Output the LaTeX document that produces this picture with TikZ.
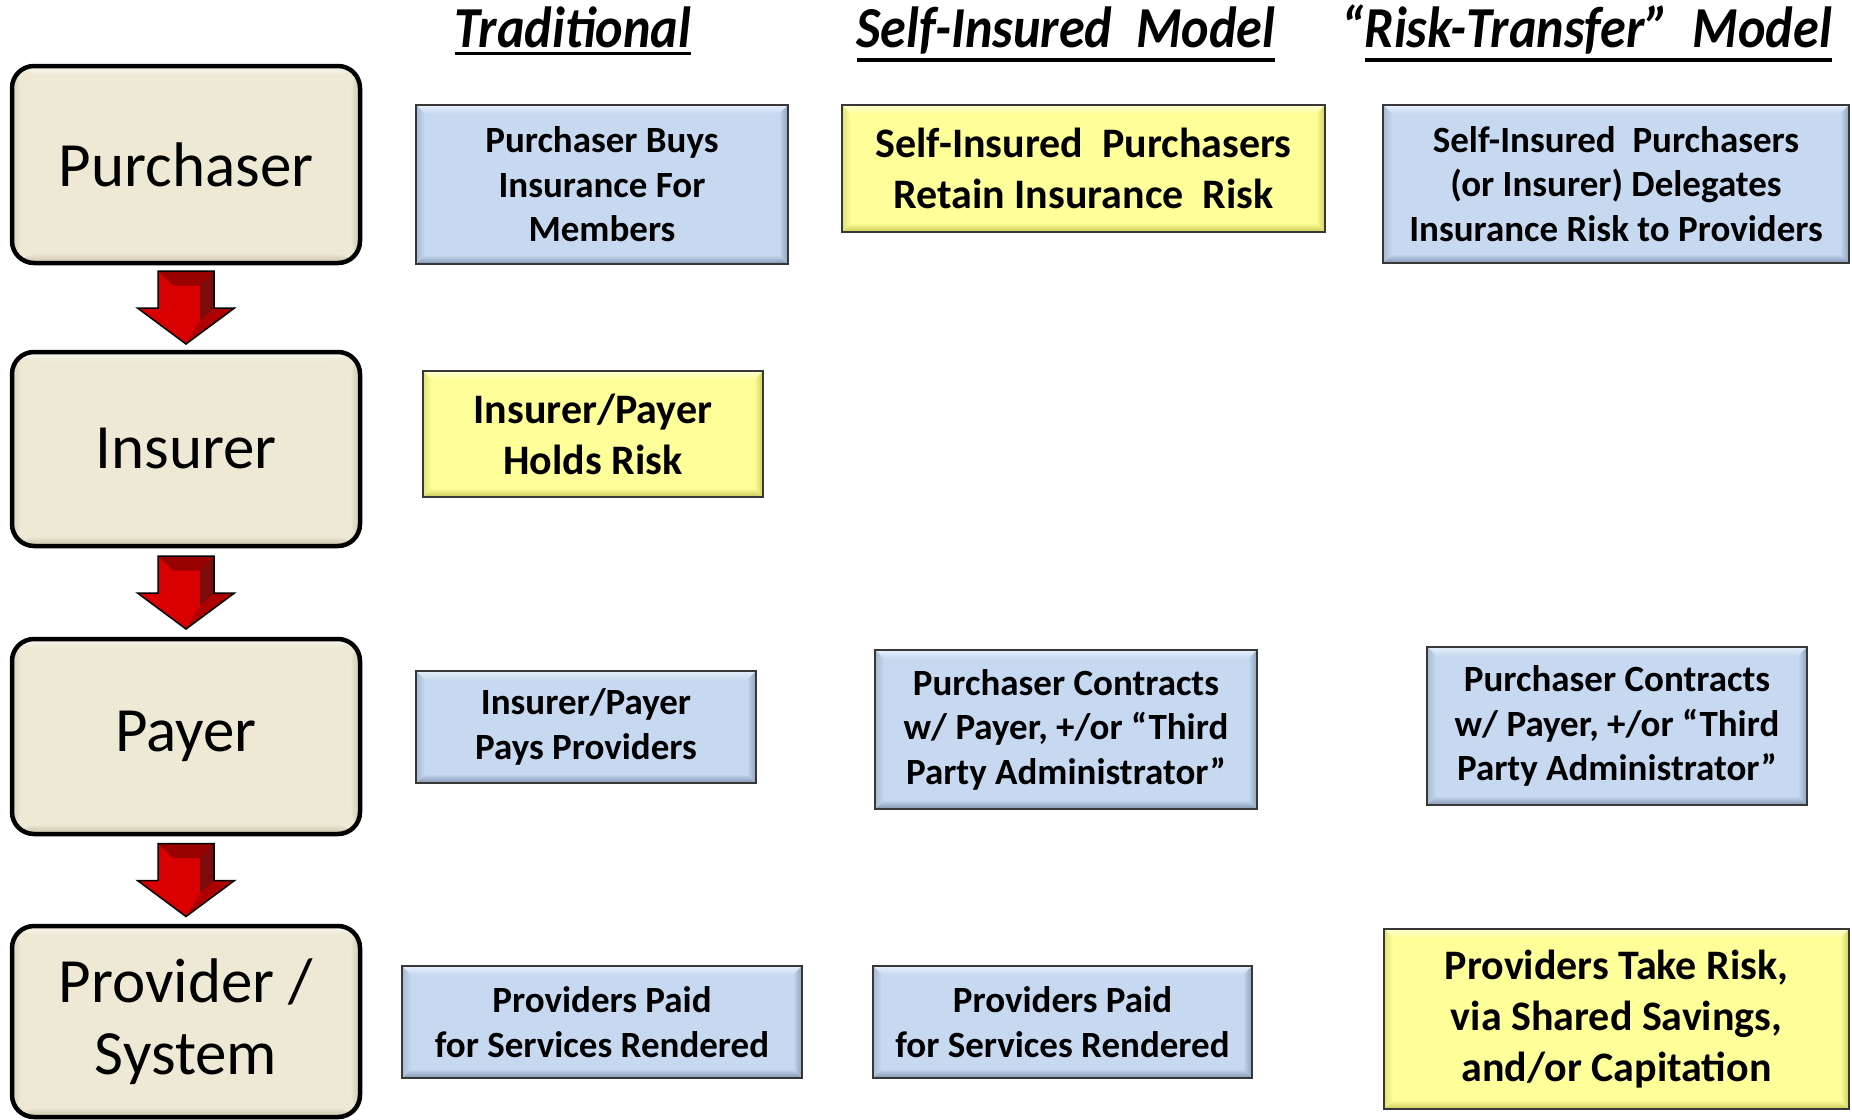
\documentclass[tikz,border=0pt]{standalone}
\usepackage{fontspec}
\usepackage{graphicx}
\setmainfont{Carlito}
\usetikzlibrary{calc}
\definecolor{boxblue}{HTML}{C6D9F1}
\definecolor{blueT}{HTML}{E6EFFA}
\definecolor{blueL}{HTML}{A6BAD4}
\definecolor{blueR}{HTML}{8DA1BB}
\definecolor{blueB}{HTML}{8396AF}
\definecolor{boxyel}{HTML}{FFFF99}
\definecolor{yelT}{HTML}{FFFFD2}
\definecolor{yelL}{HTML}{E2E27A}
\definecolor{yelR}{HTML}{CFCF62}
\definecolor{yelB}{HTML}{C8C85A}
\definecolor{boxbei}{HTML}{EDE9D5}
\definecolor{beiT}{HTML}{F8F6EE}
\definecolor{beiL}{HTML}{DAD4BE}
\definecolor{beiR}{HTML}{CFC9B1}
\definecolor{beiB}{HTML}{C8C1A8}
\definecolor{arrfront}{HTML}{D80000}
\definecolor{arrtop}{HTML}{990000}
\definecolor{arrside}{HTML}{7A0C0C}
\definecolor{arrhead}{HTML}{AE0000}
\definecolor{edgegray}{HTML}{383838}
\newcommand{\bevelpic}[6]{%
  \path (path picture bounding box.north west) coordinate (bnw)
        (path picture bounding box.north east) coordinate (bne)
        (path picture bounding box.south west) coordinate (bsw)
        (path picture bounding box.south east) coordinate (bse);
  \shade[top color=#2, bottom color=#1] (bnw) -- (bne) -- ([xshift=-#6,yshift=-#6]bne) -- ([xshift=#6,yshift=-#6]bnw) -- cycle;
  \shade[top color=#1, bottom color=#5] (bsw) -- (bse) -- ([xshift=-#6,yshift=#6]bse) -- ([xshift=#6,yshift=#6]bsw) -- cycle;
  \shade[left color=#3, right color=#1] (bnw) -- (bsw) -- ([xshift=#6,yshift=#6]bsw) -- ([xshift=#6,yshift=-#6]bnw) -- cycle;
  \shade[left color=#1, right color=#4] (bne) -- (bse) -- ([xshift=-#6,yshift=#6]bse) -- ([xshift=-#6,yshift=-#6]bne) -- cycle;
}
\newcommand{\hul}[1]{\vtop{\hbox{#1}\kern4.5pt\hrule height 3.5pt}}
\tikzset{
  boxbase/.style={rectangle, draw=edgegray, line width=2.5pt, align=center,
    inner sep=0pt, text=black},
  bluebox/.style n args={2}{boxbase, fill=boxblue, minimum width=#1, minimum height=#2,
    font=\fontsize{37}{44.5}\selectfont\bfseries,
    path picture={\bevelpic{boxblue}{blueT}{blueL}{blueR}{blueB}{9pt}}},
  yelbox/.style n args={2}{boxbase, fill=boxyel, minimum width=#1, minimum height=#2,
    font=\fontsize{42}{51}\selectfont\bfseries,
    path picture={\bevelpic{boxyel}{yelT}{yelL}{yelR}{yelB}{9pt}}},
  rolebox/.style={rectangle, rounded corners=22pt, draw=black, line width=4.5pt,
    fill=boxbei, minimum width=348, minimum height=#1, align=center, inner sep=0pt,
    font=\fontsize{63}{72}\selectfont,
    path picture={\bevelpic{boxbei}{beiT}{beiL}{beiR}{beiB}{10pt}}},
  header/.style={anchor=base, inner sep=0pt, font=\fontsize{58}{60}\selectfont\bfseries\itshape},
  redarrow/.pic={
    \fill[arrfront] (-28,-36.5) -- (28,-36.5) -- (28,0.5) -- (48.5,0.5) -- (0,36.5)
      -- (-48.5,0.5) -- (-28,0.5) -- cycle;
    \fill[arrtop] (-28,-36.5) -- (28,-36.5) -- (14,-22) -- (-13,-22) -- cycle;
    \fill[arrside] (28,-36.5) -- (28,0.5) -- (14,13.5) -- (14,-22) -- cycle;
    \fill[arrhead] (28,0.5) -- (48.5,0.5) -- (0,36.5) -- (14,13.5) -- cycle;
    \draw[black, line width=1.5pt, line join=miter] (-28,-36.5) -- (28,-36.5) -- (28,0.5)
      -- (48.5,0.5) -- (0,36.5) -- (-48.5,0.5) -- (-28,0.5) -- cycle;
  }
}
\begin{document}
\begin{tikzpicture}[x=1pt, y=-1pt]
\useasboundingbox[fill=white] (0,0) rectangle (1852,1119);

% headers
\node[header] (h1) at (573,47) {\scalebox{0.9}[1]{\hul{Traditional}}};
\node[header] (h2) at (1066,47) {\scalebox{0.9}[1]{\hul{Self-Insured\ \ Model}}};
\node[header] (h3) at (1587,47) {\scalebox{0.9}[1]{“\hul{Risk-Transfer”\ \ Model}}};

% role boxes
\node[rolebox=197] (pur) at (186,164.5) {Purchaser};
\node[rolebox=194] (ins) at (186,449) {Insurer};
\node[rolebox=195] (pay) at (186,736.5) {Payer};
\node[rolebox=191] (prov) at (186,1021.5) {Provider /\\System};

% arrows
\pic at ($(pur.south)!0.5!(ins.north)$) {redarrow};
\pic at ($(ins.south)!0.5!(pay.north)$) {redarrow};
\pic at ($(pay.south)!0.5!(prov.north)$) {redarrow};

% row 1
\node[bluebox={372}{159}] (b1) at (602,184.5) {Purchaser Buys\\Insurance For\\Members};
\node[yelbox={483}{127}] (y1) at (1083.5,168.5) {Self-Insured\ \ Purchasers\\Retain Insurance\ \ Risk};
\node[bluebox={466}{158}] (b2) at (1616,184) {Self-Insured\ \ Purchasers\\(or Insurer) Delegates\\Insurance Risk to Providers};

% row 2
\node[yelbox={340}{126}] (y2) at (593,434) {Insurer/Payer\\Holds Risk};

% row 3
\node[bluebox={340}{112}] (b3) at (586,727) {Insurer/Payer\\Pays Providers};
\node[bluebox={382}{159}] (b4) at (1066,729.5) {Purchaser Contracts\\w/ Payer, +/or “Third\\Party Administrator”};
\node[bluebox={380}{158}] (b5) at (1617,726) {Purchaser Contracts\\w/ Payer, +/or “Third\\Party Administrator”};

% row 4
\node[bluebox={400}{112}] (b6) at (602,1022) {Providers Paid\\for Services Rendered};
\node[bluebox={379}{112}] (b7) at (1062.5,1022) {Providers Paid\\for Services Rendered};
\node[yelbox={465}{180}] (y3) at (1616.5,1019) {Providers Take Risk,\\via Shared Savings,\\and/or Capitation};
\end{tikzpicture}
\end{document}
